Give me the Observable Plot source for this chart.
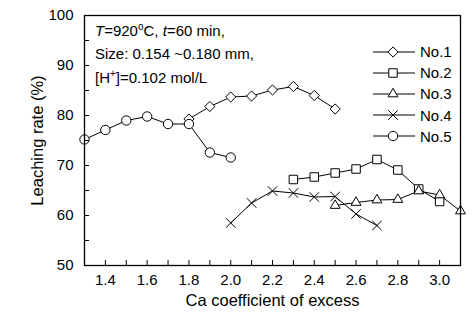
<!DOCTYPE html>
<html>
<head>
<meta charset="utf-8">
<script src="https://cdn.jsdelivr.net/npm/d3@7"></script>
<script src="https://cdn.jsdelivr.net/npm/@observablehq/plot@0.6"></script>
<style>
  html, body { margin: 0; padding: 0; background: #fff; }
  #wrap { position: relative; width: 472px; height: 320px; font-family: "Liberation Sans", Arial, sans-serif; color: #000; }
  #note { position: absolute; left: 95px; top: 20px; font-size: 15px; line-height: 21px; }
  #note sup { font-size: 10px; vertical-align: 0; position: relative; top: -6px; }
  #legend { position: absolute; left: 372px; top: 41px; font-size: 15px; }
  .row { display: flex; align-items: center; height: 21.2px; }
  .row svg { display: block; margin-right: 4px; }
</style>
</head>
<body>
<div id="wrap">
  <div id="chart"></div>
  <div id="note">
    <div><i>T</i>=920<sup>o</sup>C, <i>t</i>=60 min,</div>
    <div>Size: 0.154 ~0.180 mm,</div>
    <div style="margin-top:3px">[H<sup>+</sup>]=0.102 mol/L</div>
  </div>
  <div id="legend"></div>
</div>
<script>
// ---- data ----
const seriesNames = ["No.1", "No.2", "No.3", "No.4", "No.5"];
const seriesSymbols = ["diamond2", "square2", "triangle2", "times", "circle"];

const x1 = [1.8, 1.9, 2.0, 2.1, 2.2, 2.3, 2.4, 2.5];
const no1 = [79.3, 81.8, 83.7, 83.9, 85.1, 85.8, 84.0, 81.3];

const x2 = [2.3, 2.4, 2.5, 2.6, 2.7, 2.8, 2.9, 3.0];
const no2 = [67.2, 67.7, 68.5, 69.3, 71.2, 69.1, 65.3, 62.8];

const x3 = [2.5, 2.6, 2.7, 2.8, 2.9, 3.0, 3.1];
const no3 = [62.0, 62.6, 63.1, 63.2, 64.9, 64.1, 60.9];

const x4 = [2.0, 2.1, 2.2, 2.3, 2.4, 2.5, 2.6, 2.7];
const no4 = [58.5, 62.5, 64.9, 64.5, 63.7, 63.8, 60.3, 58.0];

const x5 = [1.3, 1.4, 1.5, 1.6, 1.7, 1.8, 1.9, 2.0];
const no5 = [75.2, 77.1, 79.0, 79.8, 78.3, 78.3, 72.6, 71.6];

const xTickLabels = [1.4, 1.6, 1.8, 2.0, 2.2, 2.4, 2.6, 2.8, 3.0];
const xMinorTicks = [1.4, 1.5, 1.6, 1.7, 1.8, 1.9, 2.0, 2.1, 2.2, 2.3, 2.4, 2.5, 2.6, 2.7, 2.8, 2.9, 3.0];
const yTickLabels = [50, 60, 70, 80, 90, 100];
const yMinorTicks = [55, 60, 65, 70, 75, 80, 85, 90, 95];

// ---- build ----
const xs = [x1, x2, x3, x4, x5];
const ys = [no1, no2, no3, no4, no5];
const radii = [4.6, 5.4, 4.7, 4.4, 4.7];
const table = seriesNames.map((name, i) => xs[i].map((x, j) => ({series: name, x, y: ys[i][j]})));

const font = '"Liberation Sans", Arial, sans-serif';
const marks = [];
table.forEach(d => marks.push(Plot.line(d, {x: "x", y: "y", stroke: "#000", strokeWidth: 1})));
table.forEach((d, i) => marks.push(Plot.dot(d, {x: "x", y: "y", symbol: () => seriesSymbols[i], r: radii[i], fill: "#fff", stroke: "#000", strokeWidth: 1})));

const chart = Plot.plot({
  width: 472,
  height: 320,
  marginLeft: 84,
  marginRight: 12,
  marginTop: 15,
  marginBottom: 55,
  style: {fontFamily: font, fontSize: "15px", color: "#000", background: "#fff"},
  x: {domain: [1.3, 3.1]},
  y: {domain: [50, 100]},
  symbol: {type: "identity"},
  marks: [
    ...marks,
    Plot.axisX({ticks: xMinorTicks, tickSize: -5, tickFormat: () => "", label: null}),
    Plot.axisX({ticks: xTickLabels, tickSize: 0, tickPadding: 9, tickFormat: d3.format(".1f"),
      label: "Ca coefficient of excess", labelAnchor: "center", labelArrow: "none", labelOffset: 40, fontSize: 15}),
    Plot.axisY({ticks: yMinorTicks, tickSize: -5, tickFormat: () => "", label: null}),
    Plot.axisY({ticks: yTickLabels, tickSize: 0, tickPadding: 11, tickFormat: d3.format("d"),
      label: "Leaching rate (%)", labelAnchor: "center", labelArrow: "none", labelOffset: 53, fontSize: 15}),
    Plot.frame({stroke: "#000", strokeWidth: 1.3})
  ]
});
document.getElementById("chart").appendChild(chart);
d3.select(chart).selectAll("g[aria-label='x-axis label'] text, g[aria-label='y-axis label'] text").style("font-size", "16.5px");

// legend
const leg = d3.select("#legend");
seriesNames.forEach((name, i) => {
  const row = leg.append("div").attr("class", "row");
  const svg = row.append("svg").attr("width", 44).attr("height", 20);
  svg.append("line").attr("x1", 1).attr("x2", 43).attr("y1", 10).attr("y2", 10).attr("stroke", "#000");
  const sym = {diamond2: d3.symbolDiamond2, square2: d3.symbolSquare2, triangle2: d3.symbolTriangle2, times: d3.symbolTimes, circle: d3.symbolCircle}[seriesSymbols[i]];
  svg.append("path").attr("transform", "translate(21,10)")
    .attr("d", d3.symbol(sym, Math.PI * radii[i] * radii[i])())
    .attr("fill", "#fff").attr("stroke", "#000");
  row.append("span").text(name);
});
</script>
</body>
</html>
